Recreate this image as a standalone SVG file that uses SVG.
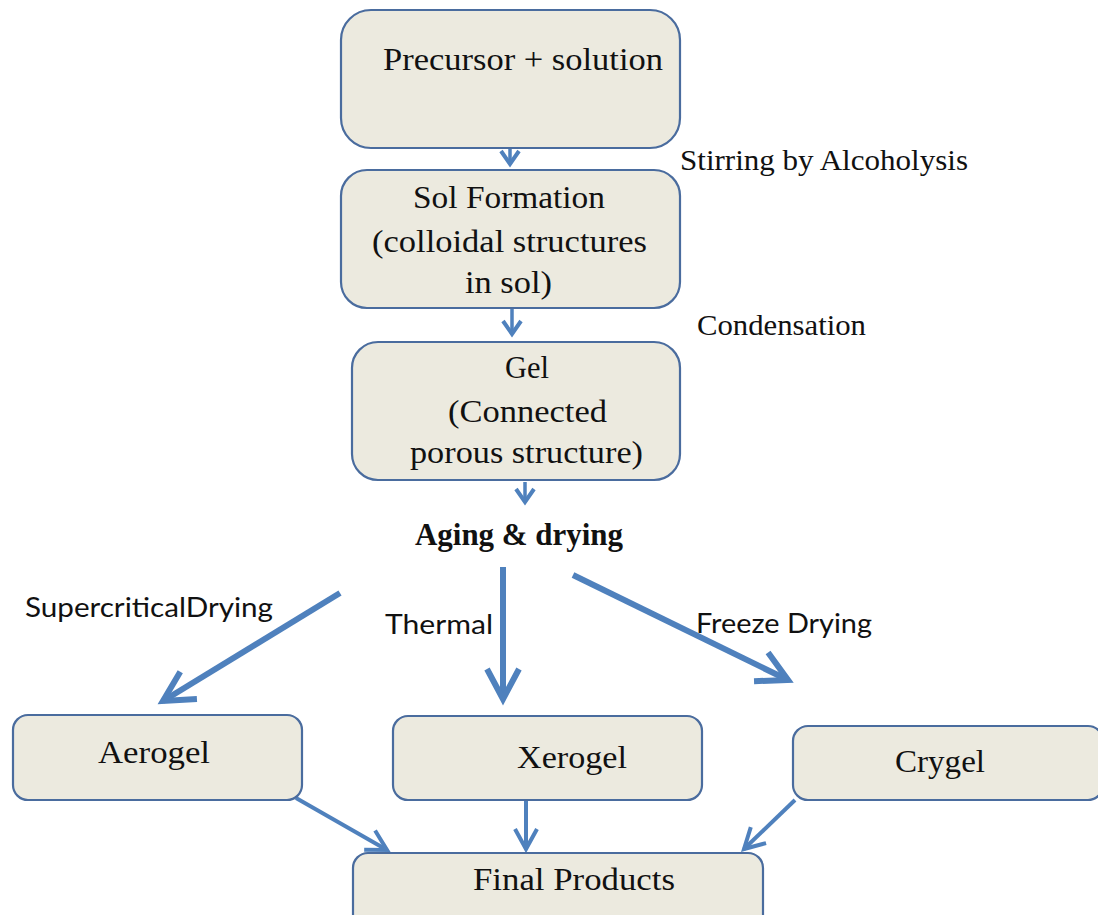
<svg xmlns="http://www.w3.org/2000/svg" width="1098" height="915" viewBox="0 0 1098 915">
<style>
.box{fill:#ECEADF;stroke:#4A6C9E;stroke-width:2.2}
.t{font-family:"Liberation Serif","Times New Roman",serif;font-size:32px;fill:#111}
.tb{font-family:"Liberation Serif","Times New Roman",serif;font-size:31px;font-weight:bold;fill:#111}
.lbl{font-family:"Liberation Serif","Times New Roman",serif;font-size:30px;fill:#111}
.s{font-family:Lato,"Liberation Sans",sans-serif;font-size:27px;fill:#111}
.c{fill:none;stroke:#4F81BD}
.big{stroke-width:6}
.mid{stroke-width:4}
.sm{stroke-width:3.5}
</style>
<defs>
<marker id="hb" markerUnits="userSpaceOnUse" orient="auto" overflow="visible" markerWidth="1" markerHeight="1" refX="0" refY="0">
<path d="M-30,-16 L0,0 L-30,16" fill="none" stroke="#4F81BD" stroke-width="6" stroke-linejoin="miter"/>
</marker>
<marker id="hm" markerUnits="userSpaceOnUse" orient="auto" overflow="visible" markerWidth="1" markerHeight="1" refX="0" refY="0">
<path d="M-20,-11 L0,0 L-20,11" fill="none" stroke="#4F81BD" stroke-width="4"/>
</marker>
<marker id="hs" markerUnits="userSpaceOnUse" orient="auto" overflow="visible" markerWidth="1" markerHeight="1" refX="0" refY="0">
<path d="M-13,-9 L0,0 L-13,9" fill="none" stroke="#4F81BD" stroke-width="4"/>
</marker>
</defs>
<rect width="1098" height="915" fill="#fff"/>

<g id="connectors">
<line class="c sm" x1="510" y1="148" x2="510" y2="164" marker-end="url(#hs)"/>
<line class="c sm" x1="512" y1="309" x2="512" y2="334" marker-end="url(#hs)"/>
<line class="c sm" x1="525" y1="482" x2="525" y2="502" marker-end="url(#hs)"/>
<line class="c big" x1="340" y1="593" x2="163" y2="701" marker-end="url(#hb)"/>
<line class="c big" x1="503" y1="567" x2="503" y2="699" marker-end="url(#hb)"/>
<line class="c big" x1="573" y1="575" x2="788" y2="680" marker-end="url(#hb)"/>
<line class="c mid" x1="296" y1="798" x2="387" y2="850" marker-end="url(#hm)"/>
<line class="c mid" x1="526" y1="801" x2="526" y2="849" marker-end="url(#hm)"/>
<line class="c mid" x1="795" y1="800" x2="744" y2="849" marker-end="url(#hm)"/>
</g>

<g id="precursor">
<rect class="box" x="341" y="10" width="339" height="138" rx="30"/>
<text class="t" x="383" y="70" textLength="280" lengthAdjust="spacingAndGlyphs">Precursor + solution</text>
</g>
<g id="sol">
<rect class="box" x="341" y="170" width="339" height="138" rx="26"/>
<text class="t" x="413" y="208" textLength="192" lengthAdjust="spacingAndGlyphs">Sol Formation</text>
<text class="t" x="372" y="252" textLength="275" lengthAdjust="spacingAndGlyphs">(colloidal  structures</text>
<text class="t" x="465" y="293" textLength="87" lengthAdjust="spacingAndGlyphs">in sol)</text>
</g>
<g id="gel">
<rect class="box" x="352" y="342" width="328" height="138" rx="26"/>
<text class="t" x="505" y="378" textLength="44" lengthAdjust="spacingAndGlyphs">Gel</text>
<text class="t" x="448" y="422" textLength="159" lengthAdjust="spacingAndGlyphs">(Connected</text>
<text class="t" x="410" y="463" textLength="233" lengthAdjust="spacingAndGlyphs">porous structure)</text>
</g>
<g id="aging">
<text class="tb" x="415" y="545" textLength="208" lengthAdjust="spacingAndGlyphs">Aging &amp; drying</text>
</g>
<g id="aerogel">
<rect class="box" x="13" y="715" width="289" height="85" rx="15"/>
<text class="t" x="98" y="763" textLength="112" lengthAdjust="spacingAndGlyphs">Aerogel</text>
</g>
<g id="xerogel">
<rect class="box" x="393" y="716" width="309" height="84" rx="15"/>
<text class="t" x="517" y="768" textLength="110" lengthAdjust="spacingAndGlyphs">Xerogel</text>
</g>
<g id="crygel">
<rect class="box" x="793" y="726" width="310" height="74" rx="15"/>
<text class="t" x="895" y="772" textLength="90" lengthAdjust="spacingAndGlyphs">Crygel</text>
</g>
<g id="final">
<rect class="box" x="353" y="853" width="410" height="80" rx="15"/>
<text class="t" x="473" y="890" textLength="202" lengthAdjust="spacingAndGlyphs">Final  Products</text>
</g>

<g id="labels">
<text class="lbl" x="680" y="170" textLength="288" lengthAdjust="spacingAndGlyphs">Stirring  by Alcoholysis</text>
<text class="lbl" x="697" y="335" textLength="169" lengthAdjust="spacingAndGlyphs">Condensation</text>
<text class="s" x="25" y="617" textLength="248" lengthAdjust="spacingAndGlyphs">SupercriticalDrying</text>
<text class="s" x="385" y="634" textLength="108" lengthAdjust="spacingAndGlyphs">Thermal</text>
<text class="s" x="696" y="633" textLength="176" lengthAdjust="spacingAndGlyphs">Freeze Drying</text>
</g>
</svg>
